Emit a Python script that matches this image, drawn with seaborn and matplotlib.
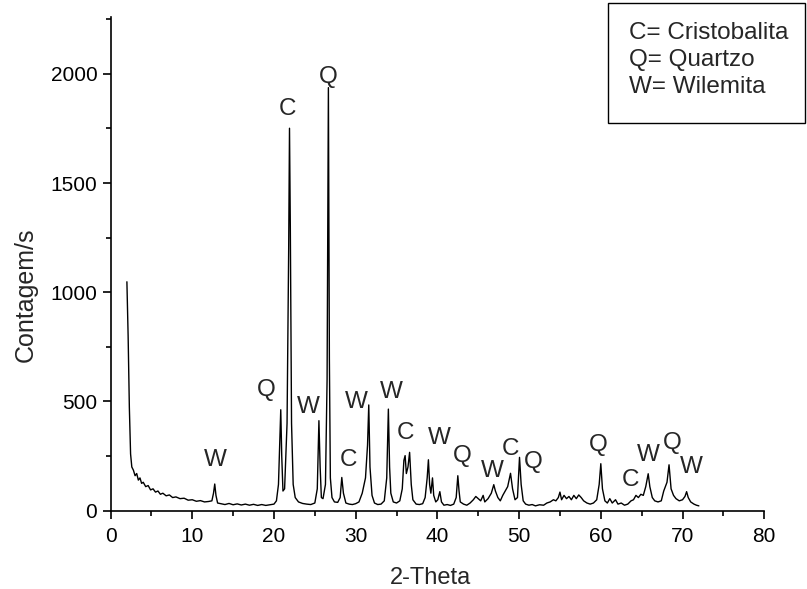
import matplotlib
matplotlib.use("Agg")
import matplotlib.pyplot as plt
from matplotlib.patches import Rectangle
from matplotlib.ticker import MultipleLocator
import seaborn as sns
import pandas as pd

two_theta = [2.0, 2.15, 2.3, 2.45, 2.6, 2.8, 3.0, 3.2, 3.4, 3.6, 3.8, 4.0, 4.3, 4.6, 4.9, 5.2, 5.5, 5.8,
             6.1, 6.4, 6.8, 7.2, 7.6, 8.0, 8.5, 9.0, 9.5, 10.0, 10.5, 11.0, 11.5, 12.0, 12.4, 12.6, 12.75,
             12.9, 13.1, 13.5, 14.0, 14.5, 15.0, 15.5, 16.0, 16.5, 17.0, 17.5, 18.0, 18.5, 19.0, 19.5,
             20.0, 20.3, 20.55, 20.83, 20.95, 21.1, 21.3, 21.6, 21.8, 21.9, 22.0, 22.15, 22.35, 22.6,
             23.0, 23.5, 24.0, 24.5, 25.0, 25.3, 25.5, 25.65, 25.8, 26.0, 26.3, 26.5, 26.66, 26.78, 26.9,
             27.1, 27.4, 27.8, 28.1, 28.3, 28.5, 28.8, 29.2, 29.6, 30.0, 30.4, 30.8, 31.2, 31.45, 31.6,
             31.75, 32.0, 32.3, 32.7, 33.1, 33.5, 33.8, 34.0, 34.15, 34.3, 34.6, 35.0, 35.4, 35.7, 35.9,
             36.05, 36.2, 36.4, 36.6, 36.8, 37.0, 37.4, 37.8, 38.2, 38.5, 38.75, 38.9, 39.05, 39.2, 39.4,
             39.55, 39.8, 40.05, 40.3, 40.5, 40.8, 41.2, 41.6, 42.0, 42.3, 42.5, 42.65, 42.8, 43.2, 43.6,
             44.0, 44.4, 44.7, 45.0, 45.3, 45.6, 45.8, 46.2, 46.6, 46.9, 47.1, 47.4, 47.7, 48.0, 48.3,
             48.6, 48.95, 49.2, 49.5, 49.8, 50.05, 50.25, 50.5, 50.8, 51.2, 51.6, 52.0, 52.5, 53.0, 53.4,
             53.8, 54.2, 54.5, 54.8, 55.0, 55.2, 55.5, 55.8, 56.1, 56.4, 56.7, 57.0, 57.3, 57.6, 57.9,
             58.3, 58.7, 59.1, 59.5, 59.8, 60.0, 60.2, 60.5, 60.8, 61.1, 61.4, 61.8, 62.1, 62.5, 62.9,
             63.3, 63.7, 64.0, 64.3, 64.6, 64.9, 65.2, 65.5, 65.8, 66.0, 66.3, 66.6, 67.0, 67.4, 67.7,
             67.9, 68.1, 68.35, 68.6, 68.9, 69.2, 69.6, 70.0, 70.3, 70.5, 70.7, 71.0, 71.4, 71.7, 72.0]
counts = [1048, 800, 473, 260, 200, 185, 160, 170, 140, 150, 125, 130, 110, 115, 95, 100, 85, 90,
          75, 80, 68, 72, 60, 63, 55, 57, 48, 50, 43, 46, 40, 42, 45, 80, 122,
          70, 35, 32, 28, 33, 27, 31, 26, 30, 25, 29, 24, 28, 24, 27,
          30, 45, 120, 462, 250, 90, 100, 400, 1200, 1751, 1300, 400, 120, 60,
          40, 33, 30, 28, 35, 100, 412, 200, 60, 55, 120, 600, 1937, 700, 150,
          60, 40, 38, 60, 152, 80, 35, 30, 28, 32, 40, 80, 150, 300, 484,
          200, 70, 35, 28, 30, 45, 150, 465, 200, 80, 40, 35, 45, 100, 230,
          252, 170, 200, 267, 120, 50, 30, 28, 32, 60, 150, 233, 120, 80, 150,
          70, 40, 50, 87, 40, 25, 28, 24, 30, 60, 160, 90, 40, 30, 25,
          35, 50, 65, 55, 45, 70, 40, 55, 80, 119, 90, 60, 45, 70, 90,
          110, 171, 100, 50, 60, 244, 120, 45, 30, 25, 28, 22, 27, 25, 35,
          40, 50, 45, 60, 85, 50, 70, 55, 65, 50, 70, 55, 72, 60, 45,
          35, 30, 35, 50, 120, 215, 100, 45, 35, 55, 35, 50, 30, 35, 25,
          30, 45, 50, 70, 60, 75, 70, 110, 169, 110, 60, 45, 40, 45, 90,
          110, 130, 210, 100, 70, 55, 45, 50, 65, 87, 60, 40, 30, 25, 22]

peak_labels = ["W", "Q", "C", "W", "Q", "C", "W", "W", "C", "W", "Q", "W", "C", "Q", "Q", "C", "W", "Q", "W"]
label_x = [12.8, 19.1, 21.6, 24.2, 26.7, 29.1, 30.1, 34.4, 36.1, 40.2, 43.0, 46.7, 49.0, 51.7, 59.7, 63.6, 65.8, 68.7, 71.1]
label_y = [232, 552, 1840, 476, 1984, 232, 499, 545, 354, 333, 250, 183, 281, 224, 301, 140, 255, 308, 201]

legend_lines = ["C= Cristobalita", "Q= Quartzo", "W= Wilemita"]

sns.set_style("ticks")
plt.rcParams["font.family"] = ["Liberation Sans", "DejaVu Sans"]

fig = plt.figure(figsize=(8.07, 5.89), dpi=100)
ax = fig.add_axes([0.137, 0.133, 0.81, 0.838])

df = pd.DataFrame({"2-Theta": two_theta, "Contagem/s": counts})
sns.lineplot(data=df, x="2-Theta", y="Contagem/s", ax=ax, color="black",
             linewidth=1.0, estimator=None, sort=False)

ax.set_xlim(0, 80)
ax.set_ylim(0, 2260)
ax.xaxis.set_major_locator(MultipleLocator(10))
ax.xaxis.set_minor_locator(MultipleLocator(5))
ax.yaxis.set_major_locator(MultipleLocator(500))
ax.yaxis.set_minor_locator(MultipleLocator(250))
ax.tick_params(which="major", length=6, width=1.2, labelsize=15, color="black", labelcolor="black")
ax.tick_params(axis="x", which="major", pad=6)
ax.tick_params(which="minor", length=3.5, width=1.2, color="black")
for s in ["top", "right"]:
    ax.spines[s].set_visible(False)
for s in ["left", "bottom"]:
    ax.spines[s].set_linewidth(1.2)
    ax.spines[s].set_color("black")
ax.set_xlabel("2-Theta", fontsize=17)
ax.set_ylabel("Contagem/s", fontsize=18)
ax.xaxis.label.set_va("center")
ax.yaxis.label.set_va("center")
ax.yaxis.label.set_ha("center")
ax.xaxis.set_label_coords(0.49, -0.136)
ax.yaxis.set_label_coords(-0.129, 0.437)

for t, x, y in zip(peak_labels, label_x, label_y):
    ax.text(x, y, t, fontsize=17.5, ha="center", va="center")

fig.patches.append(Rectangle((608 / 807, 1 - 123 / 589), (805 - 608) / 807, 120 / 589,
                             transform=fig.transFigure, fill=False, edgecolor="black",
                             linewidth=1.0))
for i, line in enumerate(legend_lines):
    fig.text(629 / 807, 1 - (33 + 27 * i) / 589, line, fontsize=17.5, ha="left", va="center")

fig.savefig("out.png", dpi=100)
